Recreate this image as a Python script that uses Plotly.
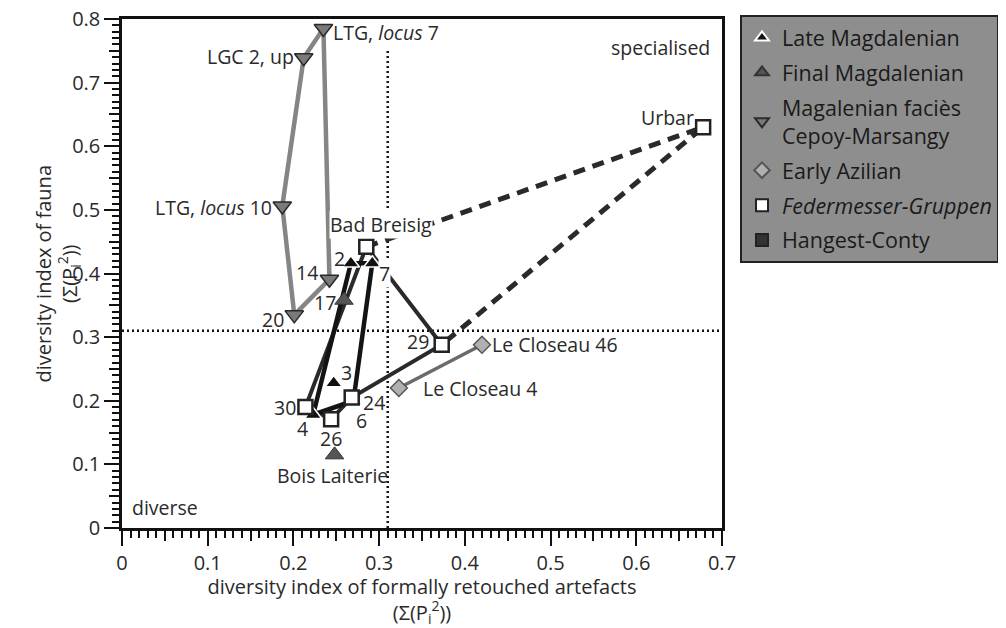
import plotly.graph_objects as go

# Sites: x = diversity of retouched artefacts, y = diversity of fauna
late_names = ["2", "7", "6", "4", "3"]
late_x = [0.267, 0.292, 0.270, 0.223, 0.247]
late_y = [0.416, 0.416, 0.200, 0.178, 0.228]
late_hull = ["4", "2", "7", "6", "4"]

final_names = ["17", "Bois Laiterie"]
final_x = [0.259, 0.248]
final_y = [0.358, 0.115]

cepoy_names = ["LTG, <i>locus</i> 7", "LGC 2, up", "LTG, <i>locus</i> 10", "20", "14"]
cepoy_x = [0.235, 0.212, 0.187, 0.201, 0.242]
cepoy_y = [0.785, 0.739, 0.506, 0.335, 0.391]
cepoy_hull = ["LTG, <i>locus</i> 7", "LGC 2, up", "LTG, <i>locus</i> 10", "20", "14",
              "LTG, <i>locus</i> 7"]

azilian_names = ["Le Closeau 46", "Le Closeau 4"]
azilian_x = [0.420, 0.323]
azilian_y = [0.288, 0.220]

fmg_names = ["Bad Breisig", "Urbar", "29", "24", "26", "30"]
fmg_x = [0.285, 0.678, 0.373, 0.268, 0.244, 0.214]
fmg_y = [0.442, 0.630, 0.288, 0.205, 0.171, 0.190]
fmg_solid = ["30", "Bad Breisig", "29", "24", "26", "30"]
fmg_dashed = ["Bad Breisig", "Urbar", "29"]

split_x = 0.31
split_y = 0.31

x_ticks = [0, 0.1, 0.2, 0.3, 0.4, 0.5, 0.6, 0.7]
y_ticks = [0, 0.1, 0.2, 0.3, 0.4, 0.5, 0.6, 0.7, 0.8]
tick_text = ["0", "0.1", "0.2", "0.3", "0.4", "0.5", "0.6", "0.7", "0.8"]

FONT = "Open Sans"
TXT = "#2a2a2a"
LBL = 19.5

# label placement (xanchor, xshift, yshift) for each site
label_pos = {
    "LTG, <i>locus</i> 7": ("left", 9, -4),
    "LGC 2, up": ("right", -9, 1),
    "LTG, <i>locus</i> 10": ("right", -9, -1),
    "14": ("right", -10, 7),
    "20": ("right", -9, -5),
    "17": ("right", -7, -2),
    "2": ("right", -5, 5),
    "Bad Breisig": ("center", 15, 22),
    "7": ("left", 6, -10),
    "3": ("left", 6, 10),
    "30": ("right", -8, 0),
    "4": ("right", -4, -14),
    "26": ("center", 0, -19),
    "6": ("center", 8, -20),
    "24": ("left", 10, -5),
    "29": ("right", -12, 3),
    "Le Closeau 46": ("left", 9, 0),
    "Le Closeau 4": ("left", 23, 0),
    "Urbar": ("right", -8, 10),
    "Bois Laiterie": ("center", -2, -21),
}
white_bg = {"7", "Bad Breisig"}


def path(names, xs, ys, order):
    lookup = dict(zip(names, zip(xs, ys)))
    return [lookup[n][0] for n in order], [lookup[n][1] for n in order]


fig = go.Figure()

# hull lines
cx, cy = path(cepoy_names, cepoy_x, cepoy_y, cepoy_hull)
fig.add_trace(go.Scatter(x=cx, y=cy, mode="lines", showlegend=False, hoverinfo="skip",
                         line=dict(color="#858585", width=4.5)))
fig.add_trace(go.Scatter(x=azilian_x, y=azilian_y, mode="lines", showlegend=False,
                         hoverinfo="skip", line=dict(color="#6a6a6a", width=3.5)))
fx, fy = path(fmg_names, fmg_x, fmg_y, fmg_dashed)
fig.add_trace(go.Scatter(x=fx, y=fy, mode="lines", showlegend=False, hoverinfo="skip",
                         line=dict(color="#2a2a2a", width=5, dash="12px,8px")))
fx, fy = path(fmg_names, fmg_x, fmg_y, fmg_solid)
fig.add_trace(go.Scatter(x=fx, y=fy, mode="lines", showlegend=False, hoverinfo="skip",
                         line=dict(color="#2a2a2a", width=4)))
lx, ly = path(late_names, late_x, late_y, late_hull)
fig.add_trace(go.Scatter(x=lx, y=ly, mode="lines", showlegend=False, hoverinfo="skip",
                         line=dict(color="#141414", width=4.5)))

# markers
fig.add_trace(go.Scatter(x=late_x, y=late_y, mode="markers", name="Late Magdalenian",
                         legendgroup="a",
                         marker=dict(symbol="triangle-up", size=15, color="#111111",
                                     line=dict(color="white", width=1.5))))
fig.add_trace(go.Scatter(x=final_x, y=final_y, mode="markers", name="Final Magdalenian",
                         legendgroup="b",
                         marker=dict(symbol="triangle-up", size=16, color="#555555",
                                     line=dict(color="#333333", width=1))))
fig.add_trace(go.Scatter(x=cepoy_x, y=cepoy_y, mode="markers",
                         name="Magalenian faciès<br>Cepoy-Marsangy", legendgroup="c",
                         marker=dict(symbol="triangle-down", size=16, color="#7a7a7a",
                                     line=dict(color="#2a2a2a", width=1.5))))
fig.add_trace(go.Scatter(x=azilian_x, y=azilian_y, mode="markers", name="Early Azilian",
                         legendgroup="d",
                         marker=dict(symbol="diamond", size=13, color="#b0b0b0",
                                     line=dict(color="#555555", width=1.5))))
fig.add_trace(go.Scatter(x=fmg_x, y=fmg_y, mode="markers",
                         name="<i>Federmesser-Gruppen</i>", legendgroup="e",
                         marker=dict(symbol="square", size=14, color="white",
                                     line=dict(color="#222222", width=2.5))))
fig.add_trace(go.Scatter(x=[None], y=[None], mode="markers", name="Hangest-Conty",
                         legendgroup="f",
                         marker=dict(symbol="square", size=13, color="#333333",
                                     line=dict(color="#222222", width=1))))

# overlay axes for medium ticks at 0.05
fig.add_trace(go.Scatter(x=[None], y=[None], xaxis="x2", yaxis="y2", showlegend=False,
                         hoverinfo="skip"))

# site labels
for names, xs, ys in [(late_names, late_x, late_y), (final_names, final_x, final_y),
                      (cepoy_names, cepoy_x, cepoy_y),
                      (azilian_names, azilian_x, azilian_y),
                      (fmg_names, fmg_x, fmg_y)]:
    for n, x, y in zip(names, xs, ys):
        anchor, dx, dy = label_pos[n]
        fig.add_annotation(x=x, y=y, text=n, showarrow=False, xanchor=anchor,
                           yanchor="middle", xshift=dx, yshift=dy, borderpad=0,
                           font=dict(family=FONT, size=LBL, color=TXT),
                           bgcolor="white" if n in white_bg else None)

fig.add_annotation(x=0.628, y=0.756, text="specialised", showarrow=False,
                   font=dict(family=FONT, size=LBL, color=TXT))
fig.add_annotation(x=0.009, y=0.033, text="diverse", showarrow=False, xanchor="left",
                   font=dict(family=FONT, size=LBL, color=TXT))

# y axis title (placed by hand to sit close to the tick labels)
fig.add_annotation(xref="paper", yref="paper", x=0, y=0.5, xshift=-65,
                   xanchor="center", yanchor="middle", textangle=-90,
                   text="diversity index of fauna<br>(Σ(P<sub>i</sub><sup>2</sup>))",
                   showarrow=False, font=dict(family=FONT, size=20, color=TXT))

# quadrant split lines
fig.add_shape(type="line", x0=split_x, x1=split_x, y0=0, y1=0.75, layer="below",
              line=dict(color="#111111", width=2.5, dash="2px,3px"))
fig.add_shape(type="line", x0=0, x1=0.7, y0=split_y, y1=split_y, layer="below",
              line=dict(color="#111111", width=2.5, dash="2px,3px"))

axis_common = dict(showline=True, linecolor="#111111", linewidth=2.5, mirror=True,
                   showgrid=False, zeroline=False, ticks="outside", tickwidth=2,
                   tickcolor="#111111", ticklen=15, ticklabeloverflow="allow",
                   tickfont=dict(family=FONT, size=20, color=TXT),
                   minor=dict(ticks="outside", dtick=0.01, ticklen=7, tickwidth=2,
                              tickcolor="#111111"))
mid_ticks = dict(ticks="outside", ticklen=12, tickwidth=2, tickcolor="#111111",
                 dtick=0.05, showticklabels=False, showgrid=False, zeroline=False,
                 showline=False)

# page body has an 8px margin, so the figure is 8px smaller than the window
fig.update_layout(
    width=998, height=620,
    margin=dict(l=114, r=284, t=11, b=100, autoexpand=False),
    paper_bgcolor="white", plot_bgcolor="white",
    font=dict(family=FONT, color=TXT),
    xaxis=dict(range=[0, 0.7], tickvals=x_ticks, ticktext=tick_text[:len(x_ticks)],
               title=dict(text="diversity index of formally retouched artefacts<br>"
                               "(Σ(P<sub>i</sub><sup>2</sup>))",
                          font=dict(family=FONT, size=20, color=TXT), standoff=4),
               **axis_common),
    yaxis=dict(range=[0, 0.8], tickvals=y_ticks, ticktext=tick_text[:len(y_ticks)],
               **axis_common),
    xaxis2=dict(range=[0, 0.7], overlaying="x", anchor="y", side="bottom", **mid_ticks),
    yaxis2=dict(range=[0, 0.8], overlaying="y", anchor="x", side="left", **mid_ticks),
    legend=dict(x=1.03, y=1.008, xanchor="left", yanchor="top",
                bgcolor="#8e8e8e", bordercolor="#222222", borderwidth=2,
                font=dict(family=FONT, size=21.5, color="#1a1a1a"),
                tracegroupgap=4, itemsizing="constant"),
)

fig.write_html("out.html")
